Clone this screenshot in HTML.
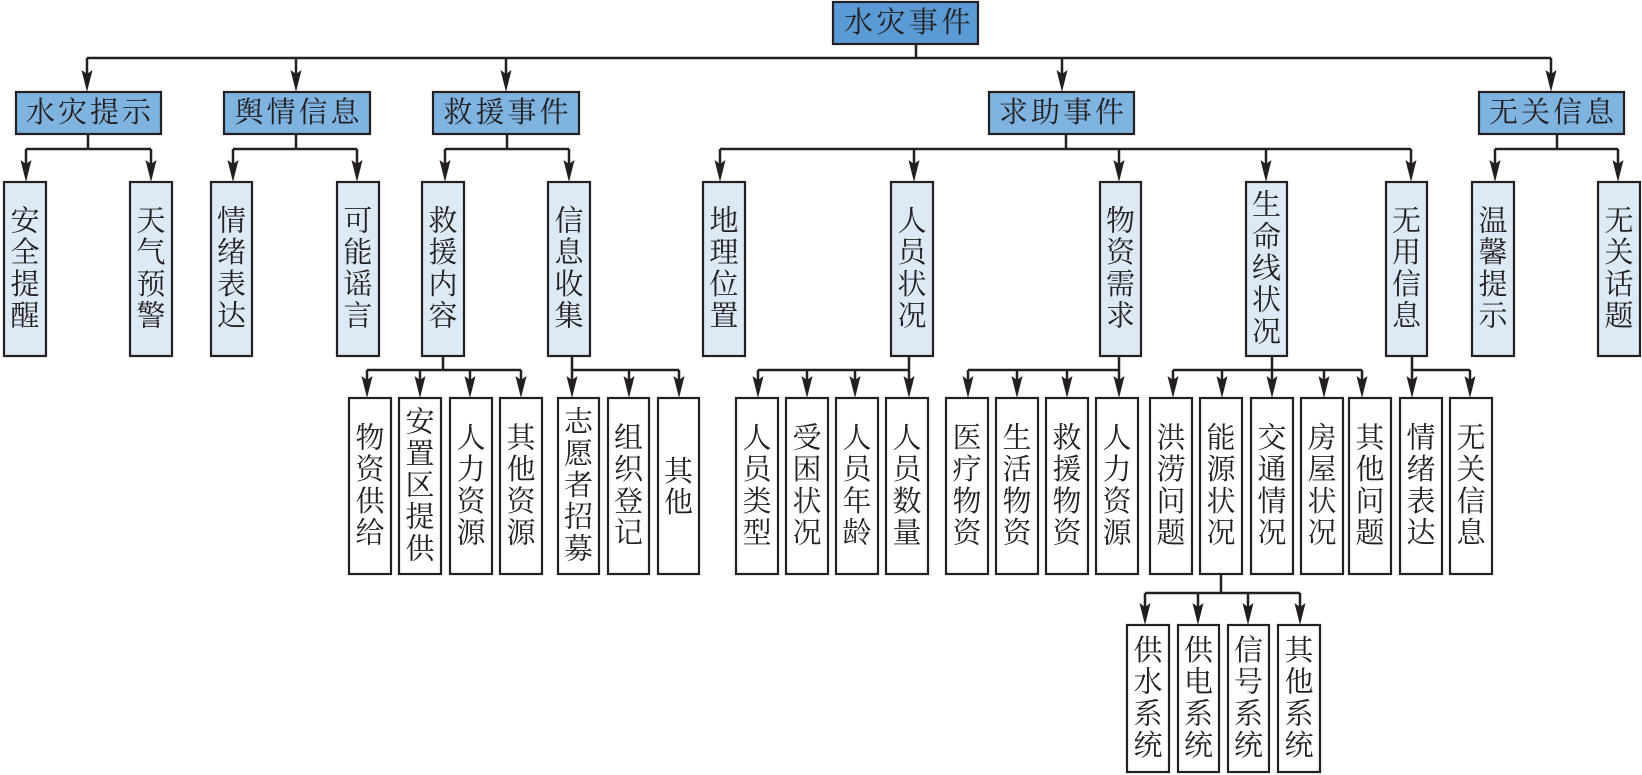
<!DOCTYPE html>
<html>
<head>
<meta charset="utf-8">
<style>
html,body{margin:0;padding:0;background:#fff;}
svg{display:block;}
.l{stroke:#231f20;stroke-width:2.5;fill:none;}
.a{fill:#231f20;stroke:none;}
.b{stroke:#231f20;stroke-width:2.2;}
.r0{fill:#5b9bd5;}
.r1{fill:#7fb3e0;}
.r2{fill:#dde9f5;}
.r3{fill:#ffffff;}
text{font-family:"Liberation Serif","Noto Serif CJK SC",serif;font-size:29px;fill:#231f20;text-anchor:middle;dominant-baseline:central;}
</style>
</head>
<body>
<svg width="1642" height="775" viewBox="0 0 1642 775" xmlns="http://www.w3.org/2000/svg">

<!-- ===== connectors level 0 -> 1 ===== -->
<path class="l" d="M916 44 V58 M87 58 H1551 M87 58 V76 M296 58 V76 M506 58 V76 M1062 58 V76 M1551 58 V76"/>
<path class="a" d="M87 92 L81.5 70 L87 74 L92.5 70 Z M296 92 L290.5 70 L296 74 L301.5 70 Z M506 92 L500.5 70 L506 74 L511.5 70 Z M1062 92 L1056.5 70 L1062 74 L1067.5 70 Z M1551 92 L1545.5 70 L1551 74 L1556.5 70 Z"/>

<!-- ===== connectors level 1 -> 2 ===== -->
<path class="l" d="M88 134 V149 M26 149 H151 M26 149 V166 M151 149 V166
M296 134 V149 M233 149 H357 M233 149 V166 M357 149 V166
M507 134 V149 M445 149 H569 M445 149 V166 M569 149 V166
M1066 134 V149 M720 149 H1411 M720 149 V166 M914 149 V166 M1119 149 V166 M1266 149 V166 M1411 149 V166
M1557 134 V149 M1495 149 H1618 M1495 149 V166 M1618 149 V166"/>
<path class="a" d="M26 182 L20.5 160 L26 164 L31.5 160 Z M151 182 L145.5 160 L151 164 L156.5 160 Z
M233 182 L227.5 160 L233 164 L238.5 160 Z M357 182 L351.5 160 L357 164 L362.5 160 Z
M445 182 L439.5 160 L445 164 L450.5 160 Z M569 182 L563.5 160 L569 164 L574.5 160 Z
M720 182 L714.5 160 L720 164 L725.5 160 Z M914 182 L908.5 160 L914 164 L919.5 160 Z
M1119 182 L1113.5 160 L1119 164 L1124.5 160 Z M1266 182 L1260.5 160 L1266 164 L1271.5 160 Z
M1411 182 L1405.5 160 L1411 164 L1416.5 160 Z M1495 182 L1489.5 160 L1495 164 L1500.5 160 Z
M1618 182 L1612.5 160 L1618 164 L1623.5 160 Z"/>

<!-- ===== connectors level 2 -> 3 ===== -->
<path class="l" d="M443 356 V370 M367 370 H521 M367 370 V382 M420 370 V382 M470 370 V382 M521 370 V382
M572 356 V370 M572 370 H679 M572 370 V382 M629 370 V382 M679 370 V382
M909 356 V370 M758 370 H909 M758 370 V382 M807 370 V382 M855 370 V382 M909 370 V382
M1119 356 V370 M968 370 H1119 M968 370 V382 M1017 370 V382 M1067 370 V382 M1119 370 V382
M1272 356 V370 M1173 370 H1362 M1173 370 V382 M1222 370 V382 M1272 370 V382 M1324 370 V382 M1362 370 V382
M1412 356 V370 M1412 370 H1470 M1412 370 V382 M1470 370 V382"/>
<path class="a" d="M367 398 L361.5 376 L367 380 L372.5 376 Z M420 398 L414.5 376 L420 380 L425.5 376 Z
M470 398 L464.5 376 L470 380 L475.5 376 Z M521 398 L515.5 376 L521 380 L526.5 376 Z
M572 398 L566.5 376 L572 380 L577.5 376 Z M629 398 L623.5 376 L629 380 L634.5 376 Z M679 398 L673.5 376 L679 380 L684.5 376 Z
M758 398 L752.5 376 L758 380 L763.5 376 Z M807 398 L801.5 376 L807 380 L812.5 376 Z
M855 398 L849.5 376 L855 380 L860.5 376 Z M909 398 L903.5 376 L909 380 L914.5 376 Z
M968 398 L962.5 376 L968 380 L973.5 376 Z M1017 398 L1011.5 376 L1017 380 L1022.5 376 Z
M1067 398 L1061.5 376 L1067 380 L1072.5 376 Z M1119 398 L1113.5 376 L1119 380 L1124.5 376 Z
M1173 398 L1167.5 376 L1173 380 L1178.5 376 Z M1222 398 L1216.5 376 L1222 380 L1227.5 376 Z
M1272 398 L1266.5 376 L1272 380 L1277.5 376 Z M1324 398 L1318.5 376 L1324 380 L1329.5 376 Z
M1362 398 L1356.5 376 L1362 380 L1367.5 376 Z
M1412 398 L1406.5 376 L1412 380 L1417.5 376 Z M1470 398 L1464.5 376 L1470 380 L1475.5 376 Z"/>

<!-- ===== connectors level 3 -> 4 ===== -->
<path class="l" d="M1221 574 V593 M1145 593 H1300 M1145 593 V609 M1198 593 V609 M1248 593 V609 M1300 593 V609"/>
<path class="a" d="M1145 625 L1139.5 603 L1145 607 L1150.5 603 Z M1198 625 L1192.5 603 L1198 607 L1203.5 603 Z
M1248 625 L1242.5 603 L1248 607 L1253.5 603 Z M1300 625 L1294.5 603 L1300 607 L1305.5 603 Z"/>

<!-- ===== root ===== -->
<rect class="b r0" x="833" y="2" width="145" height="42"/>
<text x="858.5" y="23">水</text><text x="891" y="23">灾</text><text x="923.5" y="23">事</text><text x="956" y="23">件</text>

<!-- ===== level 1 ===== -->
<rect class="b r1" x="16" y="92" width="145" height="42"/>
<text x="40.5" y="113">水</text><text x="72.5" y="113">灾</text><text x="104.5" y="113">提</text><text x="136.5" y="113">示</text>
<rect class="b r1" x="224" y="92" width="146" height="42"/>
<text x="249" y="113">舆</text><text x="281" y="113">情</text><text x="313" y="113">信</text><text x="345" y="113">息</text>
<rect class="b r1" x="433" y="92" width="146" height="42"/>
<text x="458" y="113">救</text><text x="490" y="113">援</text><text x="522" y="113">事</text><text x="554" y="113">件</text>
<rect class="b r1" x="989" y="92" width="145" height="42"/>
<text x="1013.5" y="113">求</text><text x="1045.5" y="113">助</text><text x="1077.5" y="113">事</text><text x="1109.5" y="113">件</text>
<rect class="b r1" x="1479" y="92" width="145" height="42"/>
<text x="1503.5" y="113">无</text><text x="1535.5" y="113">关</text><text x="1567.5" y="113">信</text><text x="1599.5" y="113">息</text>

<!-- ===== level 2 ===== -->
<rect class="b r2" x="4" y="182" width="42" height="174"/>
<text x="25" y="221.5">安</text><text x="25" y="253">全</text><text x="25" y="285">提</text><text x="25" y="316.5">醒</text>
<rect class="b r2" x="130" y="182" width="42" height="174"/>
<text x="151" y="221.5">天</text><text x="151" y="253">气</text><text x="151" y="285">预</text><text x="151" y="316.5">警</text>
<rect class="b r2" x="211" y="182" width="41" height="174"/>
<text x="231.5" y="221.5">情</text><text x="231.5" y="253">绪</text><text x="231.5" y="285">表</text><text x="231.5" y="316.5">达</text>
<rect class="b r2" x="337" y="182" width="42" height="174"/>
<text x="358" y="221.5">可</text><text x="358" y="253">能</text><text x="358" y="285">谣</text><text x="358" y="316.5">言</text>
<rect class="b r2" x="422" y="182" width="42" height="174"/>
<text x="443" y="221.5">救</text><text x="443" y="253">援</text><text x="443" y="285">内</text><text x="443" y="316.5">容</text>
<rect class="b r2" x="548" y="182" width="42" height="174"/>
<text x="569" y="221.5">信</text><text x="569" y="253">息</text><text x="569" y="285">收</text><text x="569" y="316.5">集</text>
<rect class="b r2" x="703" y="182" width="42" height="174"/>
<text x="724" y="221.5">地</text><text x="724" y="253">理</text><text x="724" y="285">位</text><text x="724" y="316.5">置</text>
<rect class="b r2" x="891" y="182" width="42" height="174"/>
<text x="912" y="221.5">人</text><text x="912" y="253">员</text><text x="912" y="285">状</text><text x="912" y="316.5">况</text>
<rect class="b r2" x="1100" y="182" width="41" height="174"/>
<text x="1120.5" y="221.5">物</text><text x="1120.5" y="253">资</text><text x="1120.5" y="285">需</text><text x="1120.5" y="316.5">求</text>
<rect class="b r2" x="1246" y="182" width="41" height="174"/>
<text x="1266.5" y="205.6">生</text><text x="1266.5" y="237.3">命</text><text x="1266.5" y="269">线</text><text x="1266.5" y="300.7">状</text><text x="1266.5" y="332.4">况</text>
<rect class="b r2" x="1386" y="182" width="41" height="174"/>
<text x="1406.5" y="221.5">无</text><text x="1406.5" y="253">用</text><text x="1406.5" y="285">信</text><text x="1406.5" y="316.5">息</text>
<rect class="b r2" x="1472" y="182" width="42" height="174"/>
<text x="1493" y="221.5">温</text><text x="1493" y="253">馨</text><text x="1493" y="285">提</text><text x="1493" y="316.5">示</text>
<rect class="b r2" x="1598" y="182" width="42" height="174"/>
<text x="1619" y="221.5">无</text><text x="1619" y="253">关</text><text x="1619" y="285">话</text><text x="1619" y="316.5">题</text>

<!-- ===== level 3 ===== -->
<rect class="b r3" x="349" y="398" width="42" height="176"/>
<text x="370" y="438.5">物</text><text x="370" y="470">资</text><text x="370" y="502">供</text><text x="370" y="533.5">给</text>
<rect class="b r3" x="399" y="398" width="42" height="176"/>
<text x="420" y="422.6">安</text><text x="420" y="454.3">置</text><text x="420" y="486">区</text><text x="420" y="517.7">提</text><text x="420" y="549.4">供</text>
<rect class="b r3" x="450" y="398" width="42" height="176"/>
<text x="471" y="438.5">人</text><text x="471" y="470">力</text><text x="471" y="502">资</text><text x="471" y="533.5">源</text>
<rect class="b r3" x="500" y="398" width="42" height="176"/>
<text x="521" y="438.5">其</text><text x="521" y="470">他</text><text x="521" y="502">资</text><text x="521" y="533.5">源</text>
<rect class="b r3" x="558" y="398" width="41" height="176"/>
<text x="578.5" y="422.6">志</text><text x="578.5" y="454.3">愿</text><text x="578.5" y="486">者</text><text x="578.5" y="517.7">招</text><text x="578.5" y="549.4">募</text>
<rect class="b r3" x="608" y="398" width="41" height="176"/>
<text x="628.5" y="438.5">组</text><text x="628.5" y="470">织</text><text x="628.5" y="502">登</text><text x="628.5" y="533.5">记</text>
<rect class="b r3" x="658" y="398" width="41" height="176"/>
<text x="678.5" y="472">其</text><text x="678.5" y="503">他</text>
<rect class="b r3" x="736" y="398" width="42" height="176"/>
<text x="757" y="438.5">人</text><text x="757" y="470">员</text><text x="757" y="502">类</text><text x="757" y="533.5">型</text>
<rect class="b r3" x="786" y="398" width="42" height="176"/>
<text x="807" y="438.5">受</text><text x="807" y="470">困</text><text x="807" y="502">状</text><text x="807" y="533.5">况</text>
<rect class="b r3" x="836" y="398" width="42" height="176"/>
<text x="857" y="438.5">人</text><text x="857" y="470">员</text><text x="857" y="502">年</text><text x="857" y="533.5">龄</text>
<rect class="b r3" x="886" y="398" width="42" height="176"/>
<text x="907" y="438.5">人</text><text x="907" y="470">员</text><text x="907" y="502">数</text><text x="907" y="533.5">量</text>
<rect class="b r3" x="946" y="398" width="42" height="176"/>
<text x="967" y="438.5">医</text><text x="967" y="470">疗</text><text x="967" y="502">物</text><text x="967" y="533.5">资</text>
<rect class="b r3" x="996" y="398" width="42" height="176"/>
<text x="1017" y="438.5">生</text><text x="1017" y="470">活</text><text x="1017" y="502">物</text><text x="1017" y="533.5">资</text>
<rect class="b r3" x="1046" y="398" width="42" height="176"/>
<text x="1067" y="438.5">救</text><text x="1067" y="470">援</text><text x="1067" y="502">物</text><text x="1067" y="533.5">资</text>
<rect class="b r3" x="1096" y="398" width="42" height="176"/>
<text x="1117" y="438.5">人</text><text x="1117" y="470">力</text><text x="1117" y="502">资</text><text x="1117" y="533.5">源</text>
<rect class="b r3" x="1150" y="398" width="42" height="176"/>
<text x="1171" y="438.5">洪</text><text x="1171" y="470">涝</text><text x="1171" y="502">问</text><text x="1171" y="533.5">题</text>
<rect class="b r3" x="1200" y="398" width="42" height="176"/>
<text x="1221" y="438.5">能</text><text x="1221" y="470">源</text><text x="1221" y="502">状</text><text x="1221" y="533.5">况</text>
<rect class="b r3" x="1251" y="398" width="42" height="176"/>
<text x="1272" y="438.5">交</text><text x="1272" y="470">通</text><text x="1272" y="502">情</text><text x="1272" y="533.5">况</text>
<rect class="b r3" x="1301" y="398" width="42" height="176"/>
<text x="1322" y="438.5">房</text><text x="1322" y="470">屋</text><text x="1322" y="502">状</text><text x="1322" y="533.5">况</text>
<rect class="b r3" x="1349" y="398" width="42" height="176"/>
<text x="1370" y="438.5">其</text><text x="1370" y="470">他</text><text x="1370" y="502">问</text><text x="1370" y="533.5">题</text>
<rect class="b r3" x="1400" y="398" width="42" height="176"/>
<text x="1421" y="438.5">情</text><text x="1421" y="470">绪</text><text x="1421" y="502">表</text><text x="1421" y="533.5">达</text>
<rect class="b r3" x="1450" y="398" width="42" height="176"/>
<text x="1471" y="438.5">无</text><text x="1471" y="470">关</text><text x="1471" y="502">信</text><text x="1471" y="533.5">息</text>

<!-- ===== level 4 ===== -->
<rect class="b r3" x="1127" y="625" width="42" height="147"/>
<text x="1148" y="651">供</text><text x="1148" y="682.5">水</text><text x="1148" y="714.5">系</text><text x="1148" y="746">统</text>
<rect class="b r3" x="1178" y="625" width="41" height="147"/>
<text x="1198.5" y="651">供</text><text x="1198.5" y="682.5">电</text><text x="1198.5" y="714.5">系</text><text x="1198.5" y="746">统</text>
<rect class="b r3" x="1228" y="625" width="41" height="147"/>
<text x="1248.5" y="651">信</text><text x="1248.5" y="682.5">号</text><text x="1248.5" y="714.5">系</text><text x="1248.5" y="746">统</text>
<rect class="b r3" x="1278" y="625" width="42" height="147"/>
<text x="1299" y="651">其</text><text x="1299" y="682.5">他</text><text x="1299" y="714.5">系</text><text x="1299" y="746">统</text>

</svg>
</body>
</html>
